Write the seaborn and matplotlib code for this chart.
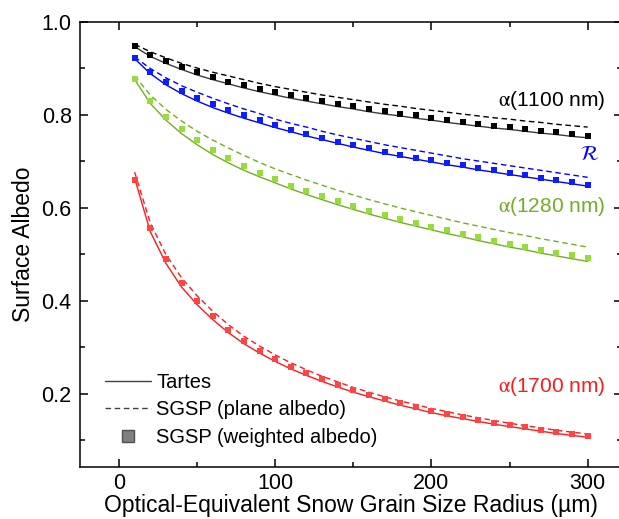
import matplotlib
matplotlib.use("Agg")
import matplotlib.pyplot as plt
from matplotlib.lines import Line2D
from matplotlib.ticker import MultipleLocator
import numpy as np
import pandas as pd
import seaborn as sns

# Grain radius (µm) at which each albedo is evaluated
radius = [10, 20, 30, 40, 50, 60, 70, 80, 90, 100,
          110, 120, 130, 140, 150, 160, 170, 180, 190, 200,
          210, 220, 230, 240, 250, 260, 270, 280, 290, 300]

# alpha(1100 nm)
a1100_tartes = [0.947, 0.926, 0.911, 0.898, 0.886, 0.876, 0.867, 0.858, 0.850, 0.843,
                0.836, 0.830, 0.824, 0.818, 0.813, 0.807, 0.802, 0.798, 0.793, 0.789,
                0.784, 0.780, 0.776, 0.772, 0.769, 0.765, 0.761, 0.758, 0.754, 0.751]
a1100_plane = [0.952, 0.936, 0.923, 0.911, 0.901, 0.892, 0.884, 0.876, 0.868, 0.861,
               0.855, 0.849, 0.843, 0.838, 0.833, 0.828, 0.823, 0.819, 0.814, 0.810,
               0.806, 0.802, 0.798, 0.794, 0.791, 0.787, 0.784, 0.780, 0.777, 0.774]
a1100_weighted = [0.948, 0.930, 0.916, 0.903, 0.892, 0.881, 0.872, 0.864, 0.856, 0.849,
                  0.842, 0.836, 0.830, 0.824, 0.819, 0.813, 0.808, 0.803, 0.799, 0.794,
                  0.789, 0.786, 0.781, 0.777, 0.774, 0.769, 0.766, 0.763, 0.759, 0.755]

# R (ratio)
r_tartes = [0.921, 0.889, 0.865, 0.846, 0.830, 0.816, 0.804, 0.793, 0.783, 0.773,
            0.764, 0.755, 0.747, 0.739, 0.731, 0.724, 0.717, 0.711, 0.705, 0.699,
            0.693, 0.688, 0.682, 0.677, 0.672, 0.667, 0.662, 0.657, 0.652, 0.647]
r_plane = [0.925, 0.900, 0.880, 0.863, 0.849, 0.836, 0.824, 0.813, 0.803, 0.791,
           0.782, 0.774, 0.765, 0.757, 0.750, 0.743, 0.736, 0.730, 0.724, 0.718,
           0.712, 0.706, 0.701, 0.696, 0.691, 0.686, 0.681, 0.676, 0.671, 0.666]
r_weighted = [0.922, 0.893, 0.870, 0.852, 0.836, 0.823, 0.810, 0.799, 0.789, 0.778,
              0.768, 0.759, 0.751, 0.743, 0.735, 0.728, 0.721, 0.715, 0.708, 0.703,
              0.697, 0.692, 0.686, 0.681, 0.675, 0.670, 0.665, 0.660, 0.655, 0.650]

# alpha(1280 nm)
a1280_tartes = [0.876, 0.825, 0.789, 0.760, 0.736, 0.715, 0.697, 0.681, 0.667, 0.654,
                0.641, 0.629, 0.618, 0.607, 0.597, 0.587, 0.578, 0.569, 0.561, 0.553,
                0.545, 0.538, 0.530, 0.523, 0.516, 0.510, 0.503, 0.497, 0.491, 0.485]
a1280_plane = [0.884, 0.843, 0.812, 0.787, 0.765, 0.746, 0.729, 0.713, 0.698, 0.684,
               0.672, 0.660, 0.649, 0.638, 0.628, 0.618, 0.609, 0.600, 0.592, 0.584,
               0.576, 0.568, 0.561, 0.554, 0.547, 0.541, 0.534, 0.528, 0.522, 0.516]
a1280_weighted = [0.877, 0.830, 0.796, 0.769, 0.746, 0.725, 0.707, 0.691, 0.676, 0.662,
                  0.648, 0.637, 0.625, 0.614, 0.604, 0.594, 0.585, 0.576, 0.568, 0.560,
                  0.553, 0.545, 0.538, 0.530, 0.523, 0.517, 0.510, 0.504, 0.498, 0.492]

# alpha(1700 nm)
a1700_tartes = [0.664, 0.549, 0.481, 0.430, 0.392, 0.360, 0.332, 0.308, 0.288, 0.270,
                0.254, 0.240, 0.227, 0.215, 0.204, 0.194, 0.185, 0.176, 0.168, 0.160,
                0.153, 0.147, 0.141, 0.135, 0.130, 0.125, 0.120, 0.115, 0.111, 0.107]
a1700_plane = [0.677, 0.568, 0.500, 0.450, 0.411, 0.378, 0.349, 0.324, 0.303, 0.284,
               0.267, 0.252, 0.238, 0.226, 0.214, 0.204, 0.194, 0.185, 0.177, 0.169,
               0.162, 0.155, 0.149, 0.143, 0.137, 0.132, 0.127, 0.122, 0.118, 0.114]
a1700_weighted = [0.660, 0.558, 0.490, 0.439, 0.400, 0.367, 0.338, 0.314, 0.293, 0.275,
                  0.259, 0.245, 0.232, 0.220, 0.209, 0.198, 0.189, 0.180, 0.171, 0.163,
                  0.157, 0.151, 0.144, 0.138, 0.133, 0.128, 0.123, 0.119, 0.115, 0.110]

series_labels = [r"$\mathrm{\alpha}$(1100 nm)", r"$\mathcal{R}$",
                 r"$\mathrm{\alpha}$(1280 nm)", r"$\mathrm{\alpha}$(1700 nm)"]
legend_labels = ["Tartes", "SGSP (plane albedo)", "SGSP (weighted albedo)"]

sns.set_theme(style="ticks")
plt.rcParams["font.family"] = ["Liberation Sans", "DejaVu Sans"]
plt.rcParams["mathtext.fontset"] = "stix"
plt.rcParams["text.color"] = "black"
plt.rcParams["axes.labelcolor"] = "black"

fig = plt.figure(figsize=(6.19, 5.19), dpi=100)
ax = fig.add_axes([80 / 619, 52 / 519, 542 / 619, 445 / 519])

dash = (0, (4, 2.6))
groups = [
    (a1100_tartes, a1100_plane, a1100_weighted, "#3c3c3c", "#000000", "#000000"),
    (r_tartes, r_plane, r_weighted, "#0000ff", "#0000ff", "#0a1eff"),
    (a1280_tartes, a1280_plane, a1280_weighted, "#72ae22", "#72ae22", "#96dc3a"),
    (a1700_tartes, a1700_plane, a1700_weighted, "#ff1a1a", "#ff1a1a", "#ff4444"),
]

for tartes, plane, weighted, c_solid, c_dash, c_sq in groups:
    sns.lineplot(x=radius, y=tartes, ax=ax, color=c_solid, linewidth=1.0,
                 linestyle="-", legend=False)
    sns.lineplot(x=radius, y=plane, ax=ax, color=c_dash, linewidth=1.0,
                 linestyle=dash, legend=False)
    sns.scatterplot(x=radius, y=weighted, ax=ax, color=c_sq, marker="s", s=16,
                    linewidth=0, legend=False, zorder=3)

ax.set_xlim(-25, 322)
ax.set_ylim(0.043, 1.0)
ax.xaxis.set_major_locator(MultipleLocator(100))
ax.xaxis.set_minor_locator(MultipleLocator(50))
ax.yaxis.set_minor_locator(MultipleLocator(0.1))
ax.set_yticks([0.2, 0.4, 0.6, 0.8, 1.0])
ax.set_yticklabels(["0.2", "0.4", "0.6", "0.8", "1.0"])

for side in ["left", "right", "top", "bottom"]:
    ax.spines[side].set_visible(True)
    ax.spines[side].set_linewidth(1.1)
    ax.spines[side].set_color("black")

ax.tick_params(which="both", direction="in", top=True, right=True,
               colors="black", width=1.1, labelsize=15.5, pad=6)
ax.tick_params(axis="x", pad=4)
ax.tick_params(which="major", length=6)
ax.tick_params(which="minor", length=3.5)

ax.set_xlabel("Optical-Equivalent Snow Grain Size Radius (µm)", fontsize=16.5,
              labelpad=0)
ax.set_ylabel("Surface Albedo", fontsize=16.5, labelpad=5)

# Curve labels
text_pos = [(311.5, 0.832, "black"), (307, 0.714, "#0000ff"),
            (311.5, 0.604, "#72ae22"), (311.5, 0.217, "#ff1a1a")]
for lbl, (tx, ty, tc) in zip(series_labels, text_pos):
    ax.text(tx, ty, lbl, color=tc, fontsize=15, ha="right", va="center")

handles = [
    Line2D([], [], color="#404040", linewidth=1.0, linestyle="-"),
    Line2D([], [], color="#404040", linewidth=1.0, linestyle=dash),
    Line2D([], [], color="none", marker="s", markersize=9,
           markerfacecolor="#808080", markeredgecolor="#505050",
           markeredgewidth=1),
]
fig.legend(handles, legend_labels, loc="upper left",
           bbox_to_anchor=(105 / 619, 1 - 373 / 519), frameon=False,
           fontsize=14.5, handlelength=2.3, handletextpad=0.25,
           labelspacing=0.42, borderpad=0, borderaxespad=0)

fig.savefig("out.png", dpi=100)
